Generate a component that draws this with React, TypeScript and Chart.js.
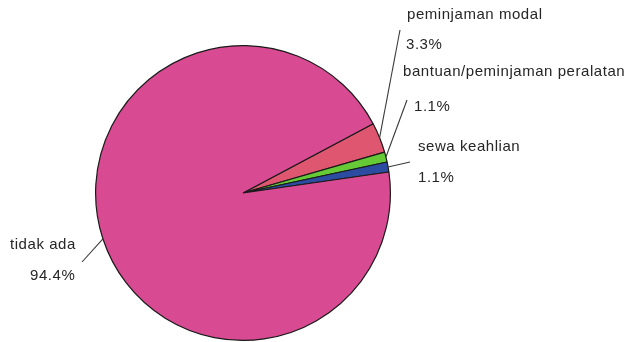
import React, { useEffect, useRef } from "react";
import { Chart, registerables } from "chart.js";

Chart.register(...registerables);

const categories = ["peminjaman modal", "bantuan/peminjaman peralatan", "sewa keahlian", "tidak ada"];
const percentages = [3.3, 1.1, 1.1, 94.4];
const percentLabels = ["3.3%", "1.1%", "1.1%", "94.4%"];
const sliceColors = ["#DF5670", "#66C936", "#2B4CA0", "#D84A92"];

// label layout: [nameX, nameY, pctX, pctY, leaderEndX, leaderEndY]
const labelLayout = [
  [407, 15, 406, 45, 400, 30],
  [403, 72, 414, 107, 407, 100],
  [418, 147, 418, 178, 410, 162],
  [10, 245, 30, 276, 82, 262],
];

const labelPlugin = {
  id: "outerLabels",
  afterDraw(chart: any) {
    const ctx = chart.ctx;
    const meta = chart.getDatasetMeta(0);
    ctx.save();
    ctx.font = "15px 'Liberation Sans', Arial, sans-serif";
    (ctx as any).letterSpacing = "0.55px";
    ctx.fillStyle = "#262626";
    ctx.textAlign = "left";
    ctx.textBaseline = "middle";
    meta.data.forEach((arc: any, i: number) => {
      const { x, y, startAngle, endAngle, outerRadius } = arc.getProps(
        ["x", "y", "startAngle", "endAngle", "outerRadius"],
        true
      );
      const mid = (startAngle + endAngle) / 2;
      const sx = x + Math.cos(mid) * outerRadius;
      const sy = y + Math.sin(mid) * outerRadius;
      const lay = labelLayout[i];
      ctx.strokeStyle = "#3a3a3a";
      ctx.lineWidth = 1.1;
      ctx.beginPath();
      ctx.moveTo(sx, sy);
      ctx.lineTo(lay[4], lay[5]);
      ctx.stroke();
      ctx.fillText(categories[i], lay[0], lay[1]);
      ctx.fillText(percentLabels[i], lay[2], lay[3]);
    });
    ctx.restore();
  },
};

export default function App() {
  const ref = useRef<HTMLCanvasElement>(null);
  useEffect(() => {
    document.body.style.margin = "0";
    const chart = new Chart(ref.current!, {
      type: "pie",
      data: {
        labels: categories,
        datasets: [
          {
            data: percentages,
            backgroundColor: sliceColors,
            borderColor: "#1a1a1a",
            borderWidth: 1.2,
          },
        ],
      },
      options: {
        animation: false,
        responsive: false,
        rotation: 62,
        layout: { padding: { left: 95, right: 237, top: 45, bottom: 1 } },
        plugins: {
          legend: { display: false },
          tooltip: { enabled: false },
        },
      },
      plugins: [labelPlugin],
    });
    return () => chart.destroy();
  }, []);
  return (
    <div style={{ width: 628, height: 342, background: "#fff" }}>
      <canvas ref={ref} width={628} height={342} style={{ display: "block" }} />
    </div>
  );
}
